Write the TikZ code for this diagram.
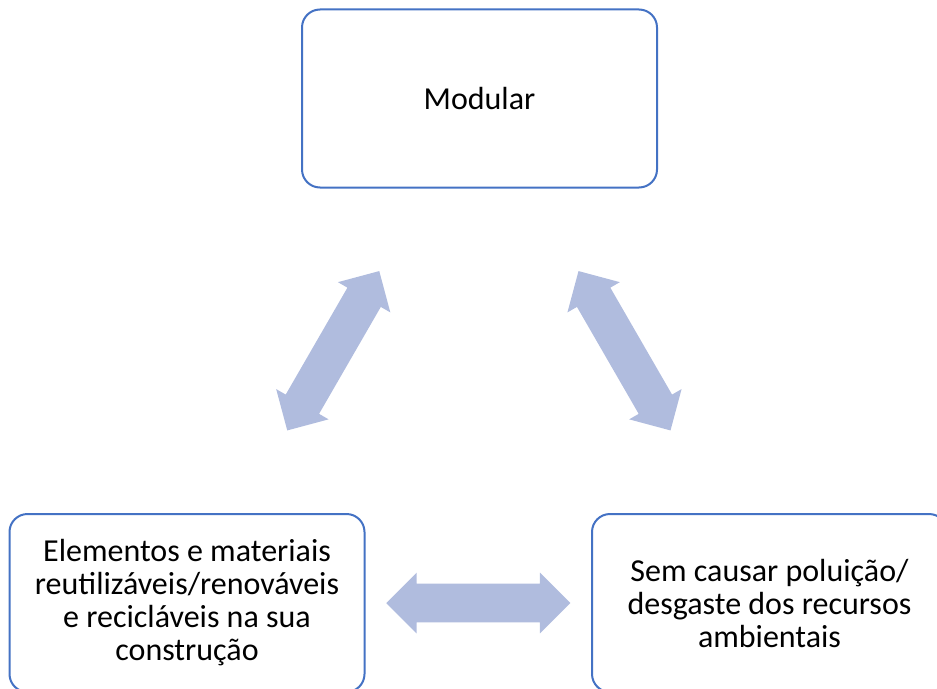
\documentclass[tikz,border=0pt]{standalone}
\usepackage{fontspec}
\setmainfont{Carlito}
\usetikzlibrary{shapes.arrows,calc}
\def\pu{0.75pt}
\definecolor{boxblue}{RGB}{68,114,196}
\definecolor{setablue}{RGB}{176,188,222}
\tikzset{
  ideia/.style={draw=boxblue, line width=2*\pu, rounded corners=18*\pu, fill=white,
    minimum width=355*\pu, minimum height=178*\pu, align=center,
    font=\fontsize{24}{24.75}\selectfont},
  seta/.style={double arrow, fill=setablue, minimum height=184*\pu, minimum width=60*\pu,
    double arrow head extend=11*\pu, inner sep=19*\pu}
}
\begin{document}
\begin{tikzpicture}[x=\pu, y=-\pu]
\useasboundingbox (0,0) rectangle (937,688);
\node[ideia] (modular) at (479.5,98.5) {Modular};
\node[ideia] (materiais) at ([shift={(-292.5,504.5)}] modular) {Elementos e materiais\\reutilizáveis/renováveis\\e recicláveis na sua\\construção};
\node[ideia] (ambiente) at ([shift={(290,504.5)}] modular) {Sem causar poluição/\\desgaste dos recursos\\ambientais};

\node[seta, rotate=60] (s1) at ($(modular)!0.5!(materiais)$) {};
\node[seta, rotate=-60] (s2) at ($(modular)!0.5!(ambiente)$) {};
\node[seta] (s3) at ($(materiais)!0.5!(ambiente)$) {};
\end{tikzpicture}
\end{document}
